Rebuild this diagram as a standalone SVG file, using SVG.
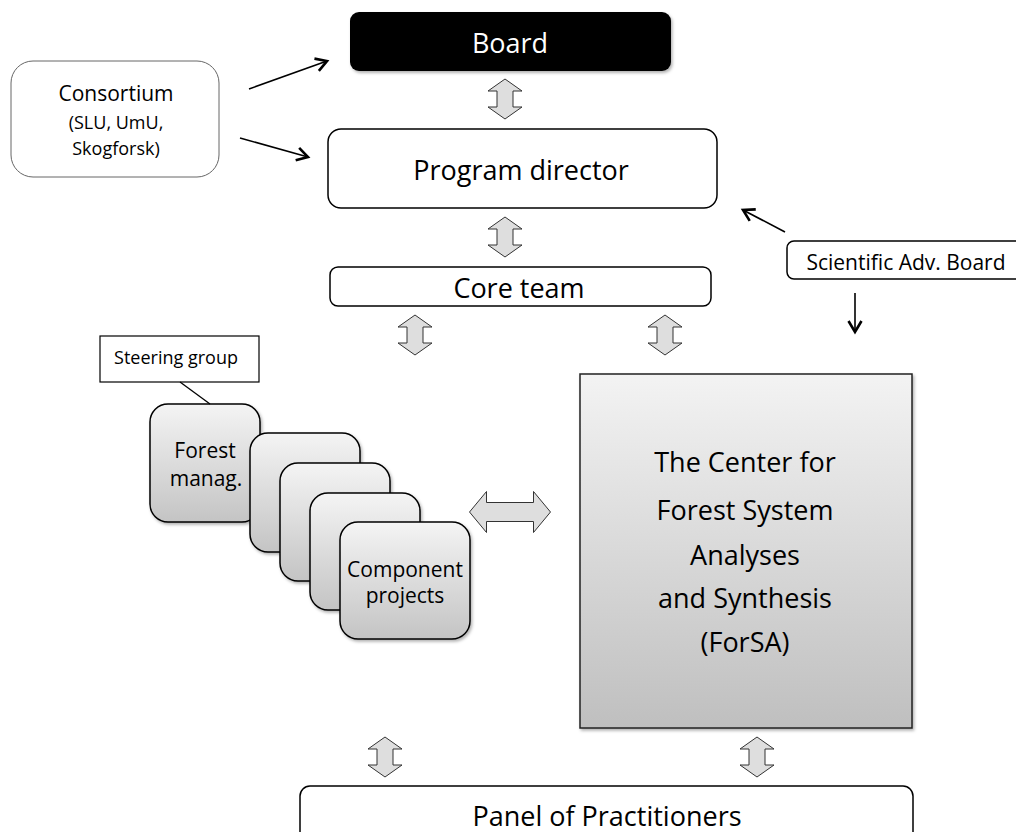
<svg xmlns="http://www.w3.org/2000/svg" width="1016" height="832" viewBox="0 0 1016 832">
  <defs>
    <style>
      text { font-family: "Open Sans", "Liberation Sans", sans-serif; fill: #000; text-anchor: middle; }
      .box { fill: #fff; stroke: #000; stroke-width: 1.5; }
      .soft { fill: #fff; stroke: #666; stroke-width: 1; }
      .card { fill: url(#cardFill); stroke: #000; stroke-width: 1.5; filter: url(#shadow); }
      .big { font-size: 27px; }
      .mid { font-size: 21px; }
      .sm { font-size: 18px; }
      .dbl { fill: #dedede; stroke: #333; stroke-width: 1; }
      .link { fill: none; stroke: #000; stroke-width: 1.6; marker-end: url(#open); }
    </style>
    <linearGradient id="cardFill" x1="0" y1="0" x2="0" y2="1">
      <stop offset="0" stop-color="#f4f4f4"/>
      <stop offset="1" stop-color="#c4c4c4"/>
    </linearGradient>
    <linearGradient id="centerFill" x1="0" y1="0" x2="0" y2="1">
      <stop offset="0" stop-color="#f3f3f3"/>
      <stop offset="1" stop-color="#bfbfbf"/>
    </linearGradient>
    <filter id="shadow" x="-10%" y="-10%" width="130%" height="130%">
      <feDropShadow dx="1.5" dy="2" stdDeviation="1.5" flood-color="#000" flood-opacity="0.3"/>
    </filter>
    <marker id="open" markerUnits="userSpaceOnUse" markerWidth="16" markerHeight="16" refX="13" refY="8" orient="auto">
      <path d="M2,1.5 L13,8 L2,14.5" fill="none" stroke="#000" stroke-width="2.6"/>
    </marker>
    <!-- vertical two-way block arrow, centred on the origin -->
    <path id="vdbl" d="M0,-20 L17,-8 L8,-8 L8,8 L17,8 L0,20 L-17,8 L-8,8 L-8,-8 L-17,-8 Z"/>
    <!-- horizontal two-way block arrow, centred on the origin -->
    <path id="hdbl" d="M-40.5,0 L-23.5,-20.5 L-23.5,-9.5 L23.5,-9.5 L23.5,-20.5 L40.5,0 L23.5,20.5 L23.5,9.5 L-23.5,9.5 L-23.5,20.5 Z"/>
  </defs>

  <rect width="1016" height="832" fill="#fff"/>

  <g id="board">
    <rect x="350" y="12" width="321" height="59" rx="9" fill="#000" filter="url(#shadow)"/>
    <text x="510" y="53" class="big" style="fill:#fff">Board</text>
  </g>

  <g id="consortium">
    <rect x="11" y="61" width="208" height="116" rx="22" class="soft"/>
    <text x="116" y="101" class="mid">Consortium</text>
    <text x="116" y="129" class="sm">(SLU, UmU,</text>
    <text x="116" y="155" class="sm">Skogforsk)</text>
  </g>

  <g id="program-director">
    <rect x="328" y="129" width="389" height="79" rx="13" class="box"/>
    <text x="521" y="180" class="big">Program director</text>
  </g>

  <g id="core-team">
    <rect x="330" y="267" width="381" height="39" rx="8" class="box"/>
    <text x="519" y="298" class="big">Core team</text>
  </g>

  <g id="scientific-adv-board">
    <rect x="787" y="241" width="250" height="38" rx="7" class="box"/>
    <text x="906" y="270" style="font-size:21px">Scientific Adv. Board</text>
  </g>

  <g id="steering-group">
    <rect x="100" y="336" width="159" height="46" class="box" style="stroke-width:1.2"/>
    <text x="176" y="364" class="sm">Steering group</text>
  </g>

  <g id="component-projects">
    <rect x="150" y="404" width="110" height="118" rx="18" class="card"/>
    <text x="205" y="458" class="mid">Forest</text>
    <text x="206" y="486" class="mid">manag.</text>
    <rect x="250" y="433" width="110" height="119" rx="18" class="card"/>
    <rect x="280" y="463" width="110" height="118" rx="18" class="card"/>
    <rect x="310" y="493" width="110" height="117" rx="18" class="card"/>
    <rect x="340" y="522" width="130" height="117" rx="18" class="card"/>
    <text x="405" y="577" class="mid">Component</text>
    <text x="405" y="603" class="mid">projects</text>
  </g>

  <g id="forsa">
    <rect x="580" y="374" width="332" height="354" fill="url(#centerFill)" stroke="#222" stroke-width="1.5" filter="url(#shadow)"/>
    <text x="745" y="472" class="big">The Center for</text>
    <text x="745" y="520" class="big">Forest System</text>
    <text x="745" y="565" class="big">Analyses</text>
    <text x="745" y="608" class="big">and Synthesis</text>
    <text x="745" y="652" class="big">(ForSA)</text>
  </g>

  <g id="panel-of-practitioners">
    <rect x="300" y="786" width="613" height="70" rx="10" class="box"/>
    <text x="607" y="826" class="big">Panel of Practitioners</text>
  </g>

  <g id="connectors">
    <line x1="249" y1="89" x2="327" y2="61" class="link"/>
    <line x1="240" y1="138" x2="308" y2="157" class="link"/>
    <line x1="785" y1="232" x2="743" y2="210" class="link"/>
    <line x1="855" y1="293" x2="855" y2="332" class="link"/>
    <line x1="180" y1="382" x2="210" y2="404" stroke="#000" stroke-width="1.3"/>
    <use href="#vdbl" x="505" y="99" class="dbl"/>
    <use href="#vdbl" x="505" y="237" class="dbl"/>
    <use href="#vdbl" x="415" y="335" class="dbl"/>
    <use href="#vdbl" x="665" y="335" class="dbl"/>
    <use href="#hdbl" x="510" y="512" class="dbl"/>
    <use href="#vdbl" x="385" y="757" class="dbl"/>
    <use href="#vdbl" x="757" y="757" class="dbl"/>
  </g>
</svg>
